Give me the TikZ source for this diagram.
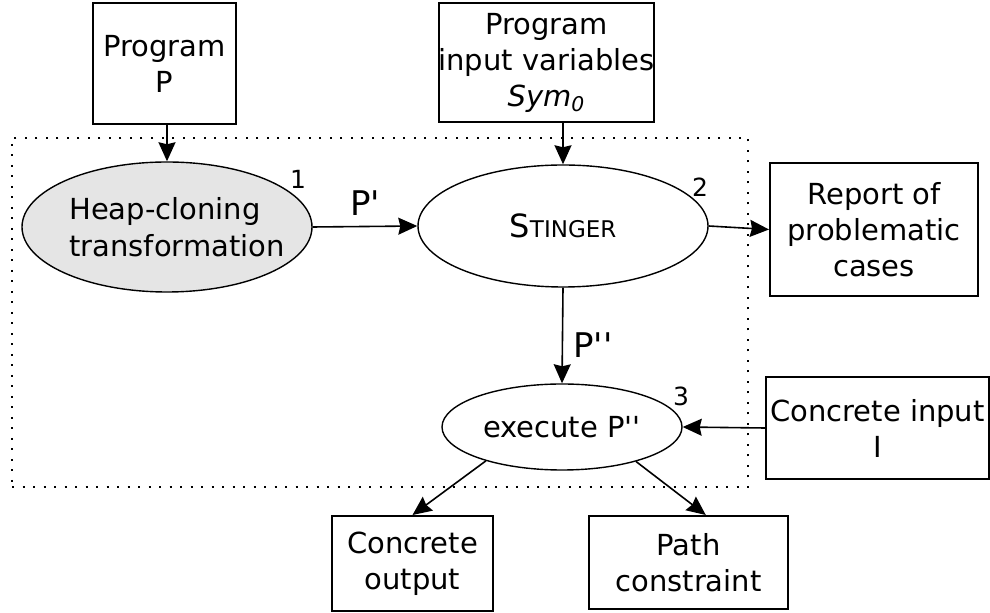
\documentclass[tikz,border=0pt]{standalone}
\usepackage{fontspec}
\setmainfont{DejaVu Sans}
\usetikzlibrary{shapes.geometric,arrows.meta}

\newcommand{\tick}{\textquotesingle}

\begin{document}
\begin{tikzpicture}[
  x=0.5pt, y=-0.5pt,
  box/.style={draw, line width=1pt, align=center, inner sep=0pt,
    font=\fontsize{14.5}{18}\selectfont},
  stage/.style={draw, ellipse, line width=0.7pt, inner xsep=-6pt, inner ysep=0pt,
    font=\fontsize{14.5}{18.5}\selectfont},
  num/.style={inner sep=0pt, font=\fontsize{12.5}{12.5}\selectfont},
  ]
  \tikzset{%
    arr/.style={
      -{Stealth[length=9.5pt,width=8.5pt,inset=1pt]},
      line width=0.8pt,
    },
    lbl/.style={inner sep=5pt, font=\fontsize{17}{17}\selectfont},
    frame/.style={
      draw, line width=1pt, dash pattern=on 1pt off 4.25pt,
      inner sep=0pt,
    },
  }
  \useasboundingbox (0,0) rectangle (990,613);
  %Frame
  \node[frame, minimum width=368pt, minimum height=174.5pt](core) at (380,312.5){};
  %Nodes
  \node[box, minimum width=71.5pt, minimum height=60.5pt](prog) at (164.5,63.5){Program\\P};
  \node[box, minimum width=104.5pt, minimum height=59.5pt](inputs) at (546.5,62.5)
    {Program\\input variables\\\textit{Sym}\textsubscript{\textit{0}}};
  \node[stage, fill=black!10, align=left, inner xsep=-11pt, minimum width=145pt, minimum height=65pt](heap) at (167,227)
    {\hspace{10pt}Heap-cloning\\\hspace{10pt}transformation};
  \node[stage, minimum width=145pt, minimum height=61pt](sting) at (563,226)
    {\fontsize{16}{16}\selectfont S\fontsize{11.5}{11.5}\selectfont TINGER};
  \node[box, minimum width=104pt, minimum height=66.5pt](report) at (874,229.5)
    {Report of\\problematic\\cases};
  \node[stage, minimum width=120pt, minimum height=43pt](exec) at (562,427){execute P\tick\tick};
  \node[box, minimum width=111.5pt, minimum height=51pt](cinput) at (877.5,428){Concrete input\\I};
  \node[box, minimum width=80.5pt, minimum height=47.5pt](coutput) at (412.5,563.5){Concrete\\output};
  \node[box, minimum width=99.5pt, minimum height=46.5pt](pathc) at (688.5,562.5){Path\\constraint};
  %Step numbers
  \node[num](n1) at (298,179){1};
  \node[num](n2) at (700,187){2};
  \node[num](n3) at (681,396){3};
  %Lines
  \draw[-]
    (prog.south -| heap.north) edge[arr] (heap.north)
    (inputs.south -| sting.north) edge[arr] (sting.north)
    (heap.east) edge[arr] node[lbl, above]{P\tick} (sting.west)
    (sting.east) edge[arr] (report.west)
    (sting.south) edge[arr] node[lbl, right, pos=0.6]{P\tick\tick} (exec.north)
    (cinput.west) edge[arr] (exec.east)
    (exec.-156) edge[arr] (coutput.north)
    (exec.-25) edge[arr] (pathc.70)
    ;
\end{tikzpicture}
\end{document}
